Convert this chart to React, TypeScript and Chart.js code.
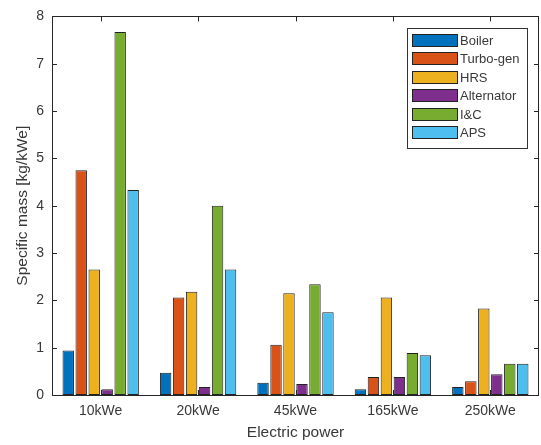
import { useEffect, useRef } from 'react';
import { Chart, registerables } from 'chart.js';

Chart.register(...registerables);

const categories = ['10kWe', '20kWe', '45kWe', '165kWe', '250kWe'];
const seriesNames = ['Boiler', 'Turbo-gen', 'HRS', 'Alternator', 'I&C', 'APS'];
const boiler = [0.94, 0.47, 0.26, 0.12, 0.17];
const turboGen = [4.75, 2.06, 1.06, 0.38, 0.29];
const hrs = [2.65, 2.18, 2.15, 2.06, 1.83];
const alternator = [0.12, 0.17, 0.23, 0.38, 0.44];
const iAndC = [7.67, 4.0, 2.34, 0.89, 0.66];
const aps = [4.33, 2.65, 1.75, 0.84, 0.66];
const yTickValues = [0, 1, 2, 3, 4, 5, 6, 7, 8];
const seriesColors = ['#0072BD', '#D95319', '#EDB120', '#7E2F8E', '#77AC30', '#4DBEEE'];

const FONT = "'Liberation Sans', Arial, Helvetica, sans-serif";
const AXIS_COLOR = '#262626';
const TEXT_COLOR = '#383838';

const framePlugin = {
  id: 'matlabFrame',
  afterDatasetsDraw(chart: any) {
    const { ctx, chartArea } = chart;
    const { left, right, top, bottom } = chartArea;
    const xs = chart.scales.x;
    const ys = chart.scales.y;
    ctx.save();
    ctx.strokeStyle = AXIS_COLOR;
    ctx.lineWidth = 1;
    ctx.strokeRect(Math.round(left) + 0.5, Math.round(top) + 0.5, Math.round(right - left) - 1, Math.round(bottom - top));
    ctx.beginPath();
    const tl = 5;
    yTickValues.forEach((v) => {
      const y = Math.round(ys.getPixelForValue(v)) + 0.5;
      ctx.moveTo(left, y);
      ctx.lineTo(left + tl, y);
      ctx.moveTo(right, y);
      ctx.lineTo(right - tl, y);
    });
    categories.forEach((_, i) => {
      const x = Math.round(xs.getPixelForValue(i)) + 0.5;
      ctx.moveTo(x, bottom);
      ctx.lineTo(x, bottom - tl);
      ctx.moveTo(x, top);
      ctx.lineTo(x, top + tl);
    });
    ctx.stroke();
    ctx.restore();
  },
  afterDraw(chart: any) {
    const { ctx, chartArea } = chart;
    const boxW = 120;
    const boxH = 120;
    const x0 = Math.round(chartArea.right - 12 - boxW);
    const y0 = Math.round(chartArea.top + 12);
    ctx.save();
    ctx.fillStyle = '#ffffff';
    ctx.fillRect(x0, y0, boxW, boxH);
    ctx.strokeStyle = '#333333';
    ctx.lineWidth = 1;
    ctx.strokeRect(x0 + 0.5, y0 + 0.5, boxW, boxH);
    ctx.font = `13px ${FONT}`;
    ctx.textBaseline = 'middle';
    ctx.textAlign = 'left';
    chart.data.datasets.forEach((ds: any, i: number) => {
      const sy = y0 + 6 + i * 18.4;
      const sx = x0 + 5;
      ctx.fillStyle = ds.backgroundColor;
      ctx.fillRect(sx, Math.round(sy), 45, 12);
      ctx.strokeStyle = '#222222';
      ctx.strokeRect(sx + 0.5, Math.round(sy) + 0.5, 45, 12);
      ctx.fillStyle = TEXT_COLOR;
      ctx.fillText(ds.label, x0 + 53, Math.round(sy) + 7);
    });
    ctx.restore();
  },
};

export default function App() {
  const canvasRef = useRef<HTMLCanvasElement | null>(null);

  useEffect(() => {
    const canvas = canvasRef.current;
    if (!canvas) return;
    const values = [boiler, turboGen, hrs, alternator, iAndC, aps];
    const chart = new Chart(canvas, {
      type: 'bar',
      data: {
        labels: categories,
        datasets: seriesNames.map((name, i) => ({
          label: name,
          data: values[i],
          backgroundColor: seriesColors[i],
          borderColor: '#222222',
          borderWidth: 1,
          borderSkipped: false,
          barPercentage: 0.88,
          categoryPercentage: 0.8,
        })),
      },
      options: {
        responsive: false,
        animation: false,
        devicePixelRatio: 1,
        layout: { padding: { top: 9, right: 2, left: 0, bottom: 0 } },
        plugins: {
          legend: { display: false },
          tooltip: { enabled: false },
        },
        scales: {
          x: {
            grid: { display: false, drawTicks: false },
            border: { display: false },
            ticks: {
              color: TEXT_COLOR,
              font: { family: FONT, size: 14 },
              padding: 8,
              maxRotation: 0,
            },
            title: {
              display: true,
              text: 'Electric power',
              color: TEXT_COLOR,
              font: { family: FONT, size: 15.5 },
              padding: { top: 0, bottom: 3 },
            },
            afterFit: (scale: any) => {
              scale.height = 50;
            },
          },
          y: {
            min: 0,
            max: 8,
            grid: { display: false, drawTicks: false },
            border: { display: false },
            ticks: {
              stepSize: 1,
              color: TEXT_COLOR,
              font: { family: FONT, size: 14 },
              padding: 8,
            },
            title: {
              display: true,
              text: 'Specific mass [kg/kWe]',
              color: TEXT_COLOR,
              font: { family: FONT, size: 15.5 },
              padding: { top: 13, bottom: 0 },
            },
            afterFit: (scale: any) => {
              scale.width = 52;
            },
          },
        },
      },
      plugins: [framePlugin],
    });
    return () => chart.destroy();
  }, []);

  return (
    <div style={{ position: 'fixed', left: 0, top: 0, width: 541, height: 445, background: '#ffffff' }}>
      <canvas ref={canvasRef} width={541} height={445} style={{ display: 'block' }} />
    </div>
  );
}
